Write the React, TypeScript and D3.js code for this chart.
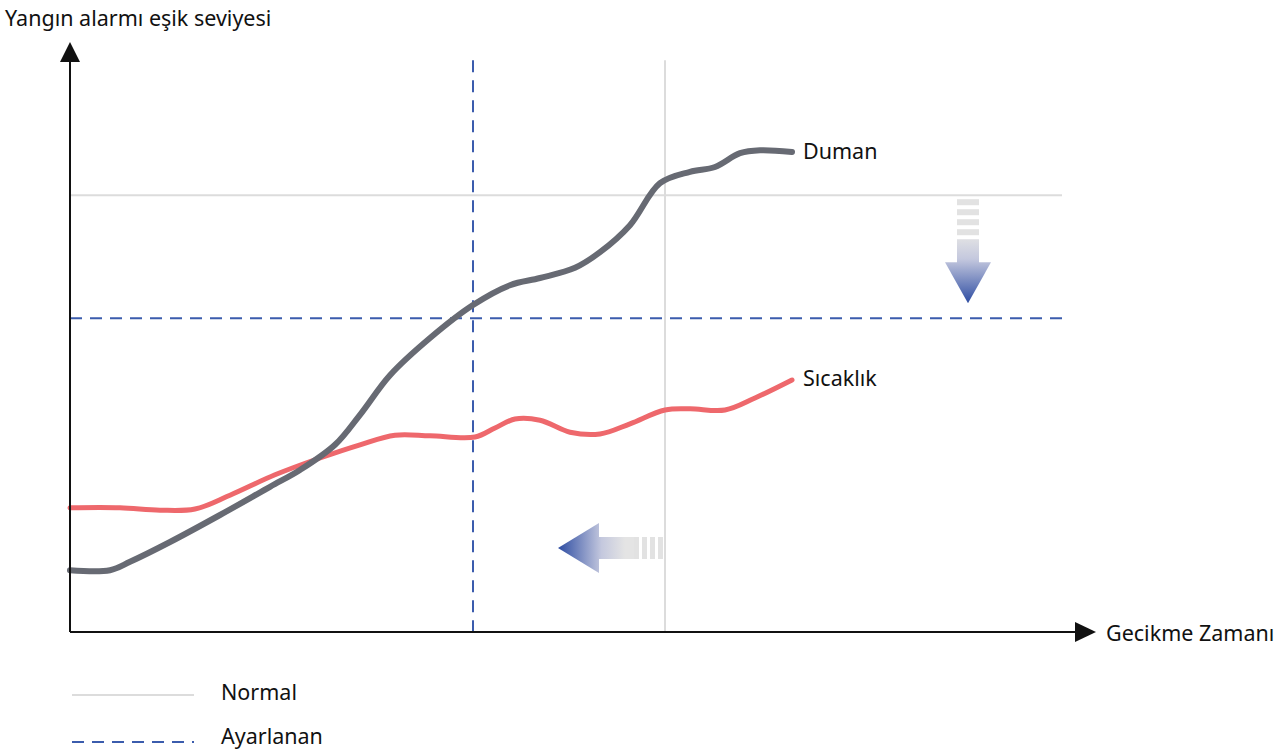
import React from "react";
import { scaleLinear, line, curveCatmullRom } from "d3";

// chart values (abstract units: time 0..100, threshold level 0..100)
const smokeX = [0, 4, 6, 10, 15, 20, 23, 26.5, 29, 32, 36, 40.3, 44, 47, 50.5, 53, 56, 59, 62, 64.5, 67, 69, 72.2];
const smokeY = [10.3, 10.3, 11.7, 15, 19.5, 24.2, 27, 31.2, 36.2, 42.8, 49, 54.5, 57.8, 59, 60.7, 63.3, 67.8, 74.8, 76.7, 77.5, 79.8, 80.3, 80];
const heatX = [0, 5, 9, 12.5, 16, 20.5, 25, 29, 32.5, 36, 40.5, 42.5, 44.5, 47, 50, 53, 56, 59.5, 62, 65.5, 68.5, 72.2];
const heatY = [20.7, 20.7, 20.3, 20.5, 22.8, 26.2, 29, 31.2, 32.8, 32.7, 32.5, 34, 35.5, 35.3, 33.3, 33, 34.7, 37, 37.2, 37, 39, 42];

const normalLevel = 72.8;
const normalTime = 59.5;
const adjustedLevel = 52.3;
const adjustedTime = 40.3;
const refTop = 95.3;
const refRight = 99.2;

const seriesNames = ["Duman", "Sıcaklık"];
const legendNames = ["Normal", "Ayarlanan"];
const yTitle = "Yangın alarmı eşik seviyesi";
const xTitle = "Gecikme Zamanı";

const W = 1286;
const H = 751;
const font = "'Noto Sans', sans-serif";

export default function App() {
  const x = scaleLinear().domain([0, 100]).range([70, 1070]);
  const y = scaleLinear().domain([0, 100]).range([632, 32]);

  const path = line<[number, number]>()
    .x((d) => x(d[0]))
    .y((d) => y(d[1]))
    .curve(curveCatmullRom.alpha(0.5));

  const smoke = path(smokeX.map((v, i) => [v, smokeY[i]] as [number, number]))!;
  const heat = path(heatX.map((v, i) => [v, heatY[i]] as [number, number]))!;

  const x0 = x(0);
  const y0 = y(0);

  // down arrow geometry
  const dax = x(89.8);
  const daTop = y(normalLevel);
  // left arrow geometry
  const lay = y(14);
  const laRight = x(normalTime);

  return (
    <svg
      width={W}
      height={H}
      style={{ position: "absolute", left: 0, top: 0, background: "#fff" }}
    >
      <defs>
        <linearGradient id="gDown" gradientUnits="userSpaceOnUse" x1={0} y1={daTop + 40} x2={0} y2={daTop + 108}>
          <stop offset="0" stopColor="#e4e4e4" />
          <stop offset="0.35" stopColor="#c4c8de" />
          <stop offset="1" stopColor="#2d4ca2" />
        </linearGradient>
        <linearGradient id="gLeft" gradientUnits="userSpaceOnUse" x1={laRight - 40} y1={0} x2={laRight - 107} y2={0}>
          <stop offset="0" stopColor="#e4e4e4" />
          <stop offset="0.35" stopColor="#c4c8de" />
          <stop offset="1" stopColor="#2d4ca2" />
        </linearGradient>
      </defs>

      {/* normal reference lines */}
      <line x1={x0} x2={x(refRight)} y1={y(normalLevel)} y2={y(normalLevel)} stroke="#dcdcdc" strokeWidth={2} />
      <line x1={x(normalTime)} x2={x(normalTime)} y1={y(refTop)} y2={y0} stroke="#dcdcdc" strokeWidth={2} />

      {/* adjusted reference lines */}
      <line x1={x0} x2={x(refRight)} y1={y(adjustedLevel)} y2={y(adjustedLevel)} stroke="#3b5cad" strokeWidth={2} strokeDasharray="12 8" />
      <line x1={x(adjustedTime)} x2={x(adjustedTime)} y1={y(refTop)} y2={y0} stroke="#3b5cad" strokeWidth={2} strokeDasharray="12 8" />

      {/* down arrow */}
      <g>
        {[0, 1, 2, 3].map((i) => (
          <rect key={i} x={dax - 11} y={daTop + 4 + i * 10} width={22} height={6} fill="#e2e2e2" />
        ))}
        <rect x={dax - 11} y={daTop + 44} width={22} height={24} fill="url(#gDown)" />
        <path
          d={`M${dax - 23},${daTop + 67} L${dax + 23},${daTop + 67} L${dax},${daTop + 108} Z`}
          fill="url(#gDown)"
        />
      </g>

      {/* left arrow */}
      <g>
        {[0, 1, 2, 3].map((i) => (
          <rect key={i} x={laRight - 7 - i * 8} y={lay - 11} width={5} height={22} fill="#e2e2e2" />
        ))}
        <rect x={laRight - 67} y={lay - 11} width={36} height={22} fill="url(#gLeft)" />
        <path
          d={`M${laRight - 66},${lay - 25} L${laRight - 66},${lay + 25} L${laRight - 107},${lay} Z`}
          fill="url(#gLeft)"
        />
      </g>

      {/* series */}
      <path d={heat} fill="none" stroke="#ee686c" strokeWidth={5} strokeLinecap="round" />
      <path d={smoke} fill="none" stroke="#676a73" strokeWidth={6} strokeLinecap="round" />

      {/* axes */}
      <line x1={x0} x2={x0} y1={y0} y2={y(97)} stroke="#111" strokeWidth={2} />
      <path d={`M${x0},42 L${x0 - 10},62 L${x0 + 10},62 Z`} fill="#111" />
      <line x1={x0} x2={1078} y1={y0} y2={y0} stroke="#111" strokeWidth={2} />
      <path d={`M1096,${y0} L1075,${y0 - 10} L1075,${y0 + 10} Z`} fill="#111" />

      {/* texts */}
      <g fontFamily={font} fontSize={21.5} fill="#111">
        <text x={5} y={26}>{yTitle}</text>
        <text x={1106} y={641}>{xTitle}</text>
        <text x={x(smokeX[smokeX.length - 1]) + 11} y={y(smokeY[smokeY.length - 1]) + 7}>{seriesNames[0]}</text>
        <text x={x(heatX[heatX.length - 1]) + 11} y={y(heatY[heatY.length - 1]) + 6}>{seriesNames[1]}</text>
        <text x={221} y={700}>{legendNames[0]}</text>
        <text x={221} y={744}>{legendNames[1]}</text>
      </g>

      {/* legend lines */}
      <line x1={72} x2={194} y1={695} y2={695} stroke="#dcdcdc" strokeWidth={2} />
      <line x1={72} x2={194} y1={742} y2={742} stroke="#3b5cad" strokeWidth={2} strokeDasharray="12 8" />
    </svg>
  );
}
